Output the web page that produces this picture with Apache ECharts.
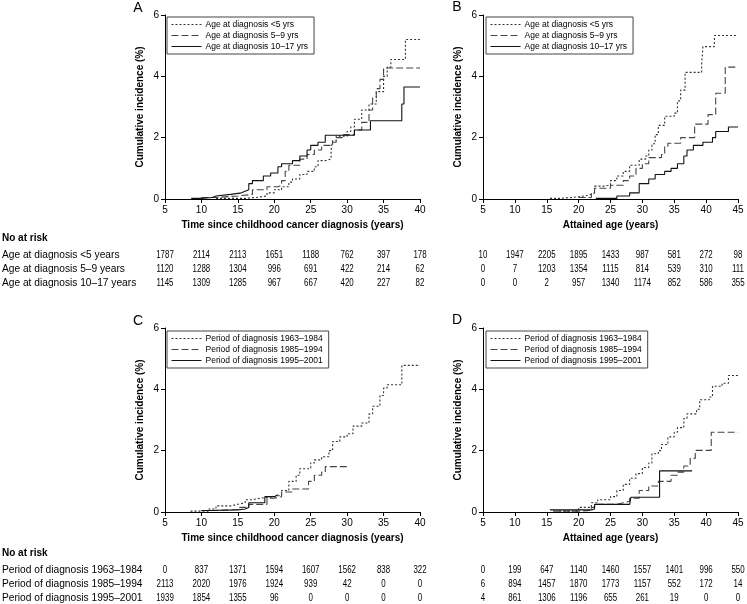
<!DOCTYPE html>
<html>
<head>
<meta charset="utf-8">
<script src="https://cdn.jsdelivr.net/npm/echarts@6/dist/echarts.min.js"></script>
<style>
  html, body { margin: 0; padding: 0; background: #fff; }
  #chart { width: 747px; height: 604px; }
</style>
</head>
<body>
<div id="chart"></div>
<script>
// axis ticks (also the columns of the "No at risk" tables)
var ticksTime = [5, 10, 15, 20, 25, 30, 35, 40]
var ticksAge = [5, 10, 15, 20, 25, 30, 35, 40, 45]

var namesAge = ['Age at diagnosis <5 yrs', 'Age at diagnosis 5\u20139 yrs', 'Age at diagnosis 10\u201317 yrs']
var namesPeriod = ['Period of diagnosis 1963\u20131984', 'Period of diagnosis 1985\u20131994', 'Period of diagnosis 1995\u20132001']
var rowsAge = ['Age at diagnosis <5 years', 'Age at diagnosis 5\u20139 years', 'Age at diagnosis 10\u201317 years']
var rowsPeriod = ['Period of diagnosis 1963\u20131984', 'Period of diagnosis 1985\u20131994', 'Period of diagnosis 1995\u20132001']

// panel A: time since diagnosis, by age at diagnosis
var aLt5 = [[12, 0.02], [16, 0.05], [17.5, 0.1], [19, 0.2], [20, 0.3], [21, 0.4], [22, 0.55], [22.5, 0.65], [23.5, 0.8], [24.5, 0.9], [25.5, 1.05], [26, 1.25], [27, 1.3], [27.8, 1.6], [28, 1.9], [28.5, 2.05], [30, 2.2], [30.5, 2.35], [31, 2.6], [32, 2.9], [33, 3.1], [34, 3.5], [35, 4.0], [35.5, 4.3], [36, 4.55], [38, 5.2], [40, 5.2]]
var a5to9 = [[10, 0.05], [12, 0.1], [15, 0.15], [17, 0.3], [19, 0.4], [20.5, 0.45], [21, 0.6], [21.5, 0.9], [22, 1.1], [23.5, 1.3], [24.5, 1.45], [25.5, 1.6], [26.5, 1.75], [28, 1.85], [28.5, 2.0], [29.5, 2.1], [31, 2.25], [32, 2.5], [33, 2.9], [33.5, 3.3], [34, 3.6], [34.5, 3.9], [35, 4.27], [40, 4.27]]
var a10to17 = [[8.6, 0.02], [10, 0.05], [11.5, 0.1], [12, 0.15], [14, 0.2], [15.5, 0.25], [16, 0.3], [16.5, 0.5], [17, 0.6], [18.5, 0.75], [19.5, 0.85], [20.5, 1.05], [21, 1.15], [22.5, 1.25], [23.5, 1.4], [24.5, 1.6], [25, 1.75], [26, 1.85], [27, 2.08], [31, 2.25], [33.2, 2.55], [37.5, 3.1], [37.8, 3.65], [40, 3.65]]

// panel B: attained age, by age at diagnosis
var bLt5 = [[15.5, 0.02], [17, 0.05], [19, 0.1], [21, 0.15], [22, 0.2], [22.5, 0.42], [24, 0.45], [25, 0.6], [26, 0.75], [27, 0.9], [28, 1.1], [29.5, 1.3], [30.5, 1.4], [31, 1.6], [31.5, 1.8], [32, 2.1], [32.5, 2.4], [33.5, 2.7], [35, 2.8], [35.5, 3.2], [36, 3.55], [36.7, 4.13], [39.3, 4.4], [39.5, 4.97], [41.3, 5.33], [45, 5.33]]
var b5to9 = [[20, 0.05], [22, 0.2], [22.5, 0.35], [25, 0.45], [27, 0.6], [28, 0.75], [29, 1.0], [30, 1.15], [31, 1.35], [33, 1.45], [33.5, 1.7], [34, 1.82], [36, 2.0], [38.2, 2.44], [40.3, 2.75], [41.5, 3.45], [43, 4.3], [45, 4.3]]
var b10to17 = [[22.7, 0.02], [26, 0.1], [28, 0.2], [29.5, 0.5], [31, 0.65], [32, 0.8], [33.5, 0.9], [34.5, 1.0], [35.5, 1.15], [36.5, 1.4], [37, 1.6], [38, 1.75], [39.5, 1.85], [41, 2.0], [41.5, 2.2], [43.5, 2.35], [45, 2.35]]

// panel C: time since diagnosis, by period of diagnosis
var c6384 = [[8.5, 0.03], [11, 0.1], [12, 0.2], [14, 0.25], [15, 0.3], [16, 0.4], [17, 0.45], [18, 0.5], [20, 0.55], [21, 0.7], [22, 1.0], [23, 1.2], [23.5, 1.41], [25, 1.6], [25.5, 1.7], [26.5, 1.8], [27.5, 2.0], [28, 2.3], [29, 2.45], [30, 2.55], [30.8, 2.8], [32, 2.9], [33, 3.2], [33.5, 3.45], [34.5, 3.8], [35, 4.04], [35.5, 4.15], [37.5, 4.78], [40, 4.78]]
var c8594 = [[10, 0.05], [12, 0.08], [15, 0.15], [16.5, 0.25], [19, 0.45], [20, 0.5], [21, 0.65], [22.5, 0.75], [24.7, 1.0], [25.5, 1.2], [26.5, 1.3], [27, 1.48], [30.3, 1.48]]
var c9501 = [[10, 0.05], [11, 0.07], [15, 0.1], [16, 0.15], [16.5, 0.3], [18.7, 0.5], [20, 0.56], [20.5, 0.56]]

// panel D: attained age, by period of diagnosis
var d6384 = [[17, 0.03], [20, 0.15], [22, 0.3], [23, 0.4], [25, 0.5], [26, 0.7], [27, 0.9], [28, 1.1], [29, 1.25], [30, 1.45], [31, 1.6], [31.5, 1.9], [32.5, 2.0], [33, 2.2], [34, 2.45], [35, 2.6], [35.5, 2.75], [36.5, 3.05], [37, 3.2], [38.5, 3.35], [39, 3.66], [40.5, 3.75], [41, 4.1], [42.5, 4.2], [43.5, 4.45], [45, 4.45]]
var d8594 = [[16, 0.03], [20, 0.05], [22, 0.15], [22.5, 0.25], [26, 0.3], [27, 0.35], [28, 0.45], [29.5, 0.7], [31, 0.85], [32.5, 1.0], [34.5, 1.2], [35.5, 1.3], [36.5, 1.5], [37.5, 1.75], [38.3, 2.01], [40.8, 2.6], [45, 2.6]]
var d9501 = [[15.5, 0.07], [22, 0.1], [22.5, 0.25], [28, 0.3], [28.2, 0.48], [32.7, 1.34], [37.8, 1.34]]

// numbers at risk
var riskA = [
  [1787, 2114, 2113, 1651, 1188, 762, 397, 178],
  [1120, 1288, 1304, 996, 691, 422, 214, 62],
  [1145, 1309, 1285, 967, 667, 420, 227, 82]
]
var riskB = [
  [10, 1947, 2205, 1895, 1433, 987, 581, 272, 98],
  [0, 7, 1203, 1354, 1115, 814, 539, 310, 111],
  [0, 0, 2, 957, 1340, 1174, 852, 586, 355]
]
var riskC = [
  [0, 837, 1371, 1594, 1607, 1562, 838, 322],
  [2113, 2020, 1976, 1924, 939, 42, 0, 0],
  [1939, 1854, 1355, 96, 0, 0, 0, 0]
]
var riskD = [
  [0, 199, 647, 1140, 1460, 1557, 1401, 996, 550],
  [6, 894, 1457, 1870, 1773, 1157, 552, 172, 14],
  [4, 861, 1306, 1196, 655, 261, 19, 0, 0]
]

var FONT = 'Liberation Sans, Arial, Helvetica, sans-serif'
var dashes = [[2, 2], [7, 3], 'solid']
var colors = ['#333', '#444', '#111']

var grids = [
  { left: 165, top: 15, width: 255, height: 184 },
  { left: 483, top: 15, width: 255, height: 184 },
  { left: 165, top: 328, width: 255, height: 184 },
  { left: 483, top: 328, width: 255, height: 184 }
]

function xAxis(idx, max, name) {
  return {
    gridIndex: idx,
    type: 'value',
    min: 5,
    max: max,
    interval: 5,
    name: name,
    nameLocation: 'middle',
    nameGap: 21,
    nameTextStyle: { fontFamily: FONT, fontSize: 10, fontWeight: 'bold', color: '#000' },
    axisLine: { onZero: false, lineStyle: { color: '#000', width: 1 } },
    axisTick: { show: true, length: 4, lineStyle: { color: '#000' } },
    axisLabel: { fontFamily: FONT, fontSize: 10, color: '#000', margin: 6 },
    splitLine: { show: false }
  }
}

function yAxis(idx) {
  return {
    gridIndex: idx,
    type: 'value',
    min: 0,
    max: 6,
    interval: 2,
    name: 'Cumulative incidence (%)',
    nameLocation: 'middle',
    nameGap: 20,
    nameTextStyle: { fontFamily: FONT, fontSize: 10, fontWeight: 'bold', color: '#000' },
    axisLine: { show: true, lineStyle: { color: '#000', width: 1 } },
    axisTick: { show: true, length: 4, lineStyle: { color: '#000' } },
    axisLabel: { fontFamily: FONT, fontSize: 10, color: '#000', margin: 6 },
    splitLine: { show: false }
  }
}

function stepSeries(idx, name, data, k) {
  return {
    name: name,
    type: 'line',
    xAxisIndex: idx,
    yAxisIndex: idx,
    step: 'end',
    symbol: 'none',
    data: data,
    color: colors[k],
    lineStyle: { color: colors[k], width: 1.1, type: dashes[k] },
    emphasis: { disabled: true }
  }
}

function legend(idx, names, left, top) {
  return {
    data: names,
    orient: 'vertical',
    left: left,
    top: top,
    itemWidth: 30,
    itemHeight: 8,
    itemGap: 2,
    padding: [3, 6, 3, 4],
    borderColor: '#444',
    borderWidth: 1,
    selectedMode: false,
    // hide the marker that line series put in the middle of the legend line
    itemStyle: { color: 'rgba(0,0,0,0)', borderColor: 'rgba(0,0,0,0)', borderWidth: 0, opacity: 0 },
    lineStyle: { width: 1 },
    textStyle: { fontFamily: FONT, fontSize: 8.5, color: '#000', padding: [0, 0, 0, -1] }
  }
}

var chart = echarts.init(document.getElementById('chart'))
chart.setOption({
  animation: false,
  backgroundColor: '#fff',
  grid: grids,
  xAxis: [
    xAxis(0, 40, 'Time since childhood cancer diagnosis (years)'),
    xAxis(1, 45, 'Attained age (years)'),
    xAxis(2, 40, 'Time since childhood cancer diagnosis (years)'),
    xAxis(3, 45, 'Attained age (years)')
  ],
  yAxis: [yAxis(0), yAxis(1), yAxis(2), yAxis(3)],
  legend: [
    legend(0, namesAge, 167, 17),
    legend(1, namesAge, 486, 17),
    legend(2, namesPeriod, 167, 331),
    legend(3, namesPeriod, 486, 331)
  ],
  series: [
    stepSeries(0, namesAge[0], aLt5, 0),
    stepSeries(0, namesAge[1], a5to9, 1),
    stepSeries(0, namesAge[2], a10to17, 2),
    stepSeries(1, namesAge[0], bLt5, 0),
    stepSeries(1, namesAge[1], b5to9, 1),
    stepSeries(1, namesAge[2], b10to17, 2),
    stepSeries(2, namesPeriod[0], c6384, 0),
    stepSeries(2, namesPeriod[1], c8594, 1),
    stepSeries(2, namesPeriod[2], c9501, 2),
    stepSeries(3, namesPeriod[0], d6384, 0),
    stepSeries(3, namesPeriod[1], d8594, 1),
    stepSeries(3, namesPeriod[2], d9501, 2)
  ]
})

// text helper for the graphic layer
function txt(x, y, s, font, align, sx) {
  return {
    type: 'text',
    x: x,
    y: y,
    scaleX: sx || 1,
    silent: true,
    style: {
      text: s,
      font: font,
      fill: '#000',
      align: align || 'left',
      textAlign: align || 'left',
      verticalAlign: 'middle',
      textVerticalAlign: 'middle'
    }
  }
}

// "No at risk" tables, columns placed on the axis ticks
function riskTable(gridIdx, ticks, rows, labels, topY, els) {
  rows.forEach(function(row, r) {
    var y = topY + 17 + r * 14
    if (labels) els.push(txt(2, y, labels[r], '10.2px ' + FONT))
    row.forEach(function(v, c) {
      var px = chart.convertToPixel({ xAxisIndex: gridIdx }, ticks[c])
      els.push(txt(px, y, String(v), '11px ' + FONT, 'center', 0.72))
    })
  })
}

var els = []
els.push(txt(2, 238, 'No at risk', 'bold 10px ' + FONT))
els.push(txt(2, 553, 'No at risk', 'bold 10px ' + FONT))
riskTable(0, ticksTime, riskA, rowsAge, 238, els)
riskTable(1, ticksAge, riskB, null, 238, els)
riskTable(2, ticksTime, riskC, rowsPeriod, 553, els)
riskTable(3, ticksAge, riskD, null, 553, els)

// panel letters
els.push(txt(138, 8, 'A', '14px ' + FONT, 'center'))
els.push(txt(457, 7, 'B', '14px ' + FONT, 'center'))
els.push(txt(138, 321, 'C', '14px ' + FONT, 'center'))
els.push(txt(457, 320, 'D', '14px ' + FONT, 'center'))

chart.setOption({ graphic: { elements: els } })
</script>
</body>
</html>
